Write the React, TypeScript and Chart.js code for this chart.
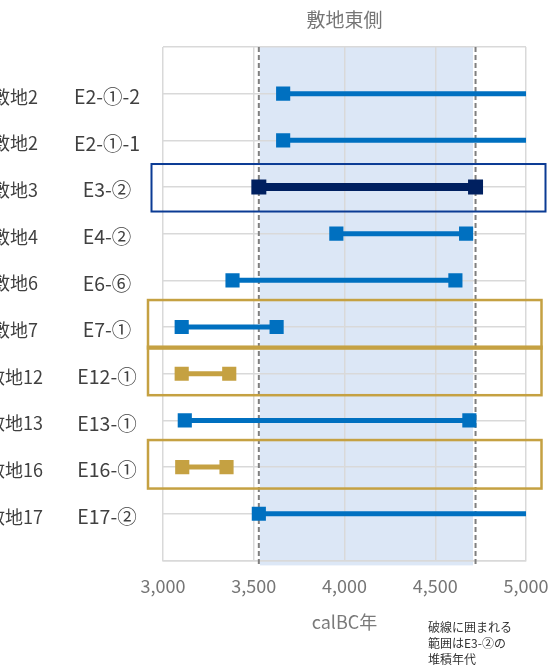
import React, { useEffect, useRef } from "react";
import { Chart, registerables } from "chart.js";

Chart.register(...registerables);

// ---- data ----
const siteLabels = ["敷地2", "敷地2", "敷地3", "敷地4", "敷地6", "敷地7", "敷地12", "敷地13", "敷地16", "敷地17"];
const sampleLabels = ["E2-①-2", "E2-①-1", "E3-②", "E4-②", "E6-⑥", "E7-①", "E12-①", "E13-①", "E16-①", "E17-②"];
const startYears = [3662, 3662, 3528, 3955, 3383, 3103, 3103, 3120, 3106, 3528];
const endYears = [5300, 5300, 4722, 4670, 4611, 3626, 3365, 4688, 3350, 5300];
const xTicks = [3000, 3500, 4000, 4500, 5000];
const xMin = 3000;
const xMax = 5000;
const refBand = [3534, 4708]; // shaded deposition range
const refDashes = [3528, 4722]; // dashed lines
const refRow = 2; // E3-②
const goldRows = [6, 8]; // E12-①, E16-①
const goldBoxRows = [5, 6, 8];
const navyBoxRows = [2];
const chartTitle = "敷地東側";
const xTitle = "calBC年";
const noteLines = ["破線に囲まれる", "範囲はE3-②の", "堆積年代"];

const BLUE = "#0070c0";
const NAVY = "#002060";
const GOLD = "#c5a142";
const FONT = "'Noto Sans CJK JP', 'Noto Sans', sans-serif";

const overlay = {
  id: "overlay",
  beforeDraw(chart: any) {
    const { ctx, chartArea, scales } = chart;
    const x = scales.x;
    const x0 = x.getPixelForValue(refBand[0]);
    const x1 = x.getPixelForValue(refBand[1]);
    ctx.save();
    ctx.fillStyle = "#dce7f6";
    ctx.fillRect(x0, chartArea.top, x1 - x0, chartArea.bottom - chartArea.top + 5);
    ctx.restore();
  },
  beforeDatasetsDraw(chart: any) {
    const { ctx, chartArea, scales } = chart;
    ctx.save();
    ctx.strokeStyle = "#7f7f7f";
    ctx.lineWidth = 2;
    ctx.setLineDash([5, 3]);
    refDashes.forEach((v) => {
      const px = scales.x.getPixelForValue(v);
      ctx.beginPath();
      ctx.moveTo(px, chartArea.top);
      ctx.lineTo(px, chartArea.bottom + 5);
      ctx.stroke();
    });
    ctx.restore();
  },
  afterDatasetsDraw(chart: any) {
    const { ctx, chartArea, scales } = chart;
    const y = scales.y;
    ctx.save();
    ctx.lineWidth = 2.5;
    ctx.strokeStyle = GOLD;
    goldBoxRows.forEach((r) => {
      const py = y.getPixelForValue(r + 1);
      const l = chartArea.left - 15;
      const rr = chartArea.right + 15.5;
      ctx.strokeRect(l, py - 27, rr - l, 48.5);
    });
    ctx.lineWidth = 2;
    ctx.strokeStyle = "#0b3b94";
    navyBoxRows.forEach((r) => {
      const py = y.getPixelForValue(r + 1);
      const l = chartArea.left - 11.5;
      const rr = chartArea.right + 19.5;
      ctx.strokeRect(l, py - 23, rr - l, 47.5);
    });
    ctx.restore();
  },
  afterDraw(chart: any) {
    const { ctx, chartArea, scales } = chart;
    const y = scales.y;
    ctx.save();
    ctx.textAlign = "center";
    ctx.textBaseline = "middle";
    ctx.fillStyle = "#404040";
    ctx.font = `18px ${FONT}`;
    siteLabels.forEach((t, i) => {
      const py = y.getPixelForValue(i + 1);
      ctx.fillText(t, chartArea.left - 148, py + 3);
    });
    ctx.font = `19.5px ${FONT}`;
    sampleLabels.forEach((t, i) => {
      const py = y.getPixelForValue(i + 1);
      ctx.fillText(t, chartArea.left - 56, py + 3);
    });
    const cx = (chartArea.left + chartArea.right) / 2;
    ctx.fillStyle = "#767676";
    ctx.font = `19px ${FONT}`;
    ctx.fillText(chartTitle, cx, 20);
    ctx.fillStyle = "#7a7a7a";
    ctx.font = `18px ${FONT}`;
    ctx.fillText(xTitle, cx, 622);
    ctx.fillStyle = "#333333";
    ctx.font = `12px ${FONT}`;
    ctx.textAlign = "left";
    noteLines.forEach((t, i) => {
      ctx.fillText(t, 428, 627 + i * 16);
    });
    ctx.restore();
  },
};

export default function App() {
  const ref = useRef<HTMLCanvasElement>(null);
  useEffect(() => {
    if (!ref.current) return;
    const datasets = sampleLabels.map((label, i) => {
      const color = i === refRow ? NAVY : goldRows.includes(i) ? GOLD : BLUE;
      return {
        label,
        data: [
          { x: startYears[i], y: i + 1 },
          { x: endYears[i], y: i + 1 },
        ],
        showLine: true,
        borderColor: color,
        backgroundColor: color,
        borderWidth: i === refRow ? 8 : 5,
        pointStyle: "rect",
        pointRadius: i === refRow ? 10.6 : 10,
        pointBorderWidth: 0,
      };
    });
    const chart = new Chart(ref.current, {
      type: "scatter",
      data: { datasets } as any,
      options: {
        animation: false,
        responsive: false,
        layout: { padding: { left: 163, right: 25, top: 47, bottom: 54 } },
        plugins: { legend: { display: false }, tooltip: { enabled: false }, title: { display: false } },
        scales: {
          x: {
            type: "linear",
            min: xMin,
            max: xMax,
            afterBuildTicks: (s: any) => {
              s.ticks = xTicks.map((v) => ({ value: v }));
            },
            afterFit: (s: any) => {
              s.paddingLeft = 0;
              s.paddingRight = 0;
            },
            ticks: {
              padding: 15,
              color: "#767676",
              font: { size: 18, family: FONT },
              callback: (v: any) => Number(v).toLocaleString("en-US"),
            },
            grid: { color: "#d9d9d9", lineWidth: 1.5, drawTicks: false },
            border: { color: "#d9d9d9", width: 1.5 },
          },
          y: {
            type: "linear",
            min: 0,
            max: 11,
            reverse: true,
            ticks: { display: false, stepSize: 1 },
            grid: { color: "#d9d9d9", lineWidth: 1.5, drawTicks: false },
            border: { display: false },
          },
        },
      },
      plugins: [overlay],
    } as any);
    return () => chart.destroy();
  }, []);
  return (
    <div style={{ position: "fixed", left: 0, top: 0, width: 551, height: 666, background: "#fff" }}>
      <canvas ref={ref} width={551} height={666} />
    </div>
  );
}
